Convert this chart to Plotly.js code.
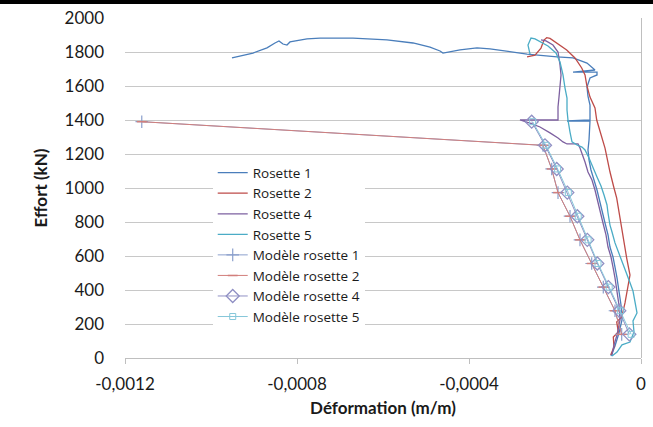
<!DOCTYPE html>
<html>
<head>
<meta charset="utf-8">
<script src="https://cdn.plot.ly/plotly-3.0.1.min.js"></script>
<style>html,body{margin:0;padding:0;background:#fff;}#chart{width:653px;height:427px;}</style>
</head>
<body>
<div id="chart"></div>
<script>
// ---- data (strain in m/m, load in kN) ----
const r1x = [-69.8e-6,-60.5e-6,-51.2e-6,-44.2e-6,-46.5e-6,-51.2e-6,-55.8e-6,-60.5e-6,-65.1e-6,-72.1e-6,-76.7e-6,-83.7e-6,-90.7e-6,-95.3e-6,-102.3e-6,-109.3e-6,-116.3e-6,-120.9e-6,-123.3e-6,-120.9e-6,-118.6e-6,-118.6e-6,-172.1e-6,-118.6e-6,-118.6e-6,-123.3e-6,-125.6e-6,-118.6e-6,-102.3e-6,-102.3e-6,-158.1e-6,-107e-6,-125.6e-6,-158.1e-6,-195.3e-6,-265.1e-6,-351.2e-6,-381.4e-6,-420.9e-6,-460.5e-6,-467.4e-6,-490.7e-6,-530.2e-6,-590.7e-6,-669.8e-6,-746.5e-6,-776.7e-6,-816.3e-6,-823.3e-6,-832.6e-6,-841.9e-6,-851.2e-6,-869.8e-6,-902.3e-6,-951.2e-6];
const r1y = [12,71,147,224,312,400,471,535,594,653,724,794,871,929,988,1047,1106,1165,1224,1282,1353,1394,1394,1400,1488,1541,1594,1647,1665,1682,1682,1694,1735,1765,1771,1788,1818,1824,1812,1794,1806,1829,1853,1871,1882,1882,1877,1859,1841,1847,1865,1853,1824,1794,1765];

const r2x = [-70.5e-6,-62.8e-6,-64.4e-6,-52.8e-6,-56.5e-6,-44.9e-6,-37.2e-6,-31.9e-6,-25.6e-6,-33.3e-6,-41.2e-6,-48.8e-6,-56.5e-6,-62.8e-6,-72.1e-6,-83.7e-6,-95.3e-6,-103e-6,-107e-6,-118.6e-6,-126.3e-6,-130.2e-6,-137.9e-6,-153.5e-6,-172.8e-6,-196e-6,-211.6e-6,-219.3e-6,-225.6e-6,-232.6e-6,-246.5e-6,-265e-6];
const r2y = [18,65,124,153,212,241,324,400,488,588,706,824,941,1000,1094,1235,1329,1400,1471,1535,1606,1665,1706,1765,1812,1853,1880,1884,1870,1823,1782,1771];

const r4x = [-67.4e-6,-62.8e-6,-55.8e-6,-48.8e-6,-51.2e-6,-55.8e-6,-60.5e-6,-65.1e-6,-69.8e-6,-76.7e-6,-81.4e-6,-88.4e-6,-95.3e-6,-100e-6,-107e-6,-114e-6,-123.3e-6,-130.2e-6,-134.9e-6,-141.9e-6,-146.5e-6,-172.1e-6,-181.4e-6,-193e-6,-211.6e-6,-234.9e-6,-258.1e-6,-281.4e-6,-193e-6,-193e-6,-190.7e-6,-188.4e-6,-186e-6,-188.4e-6,-193e-6,-204.7e-6,-220.9e-6,-232.6e-6];
const r4y = [18,77,135,224,312,400,471,535,594,653,724,794,871,929,988,1047,1094,1153,1188,1235,1259,1259,1271,1294,1324,1359,1382,1400,1400,1477,1535,1606,1665,1724,1800,1841,1865,1871];

const r5x = [-67.4e-6,-55.8e-6,-44.2e-6,-25.6e-6,-16.3e-6,-18.6e-6,-9.3e-6,-14e-6,-18.6e-6,-27.9e-6,-34.9e-6,-44.2e-6,-53.5e-6,-60.5e-6,-67.4e-6,-72.1e-6,-76.7e-6,-79.1e-6,-86e-6,-93e-6,-102.3e-6,-111.6e-6,-120.9e-6,-130.2e-6,-137.2e-6,-148.8e-6,-160.5e-6,-165.1e-6,-169.8e-6,-169.8e-6,-172.1e-6,-172.1e-6,-176.7e-6,-181.4e-6,-188.4e-6,-197.7e-6,-216.3e-6,-234.9e-6,-246.5e-6,-255.8e-6,-262.8e-6,-258.1e-6];
const r5y = [12,35,77,94,153,218,265,324,394,459,506,565,635,677,741,782,853,900,959,1012,1065,1124,1177,1224,1241,1253,1271,1329,1388,1400,1459,1529,1588,1665,1741,1794,1835,1859,1877,1882,1841,1788];

const modelLoads = [139,278,417,556,695,834,973,1112,1251,1390];
const m1x = [-44.9e-6,-60.5e-6,-87.7e-6,-114.7e-6,-141.9e-6,-165.1e-6,-193e-6,-207.7e-6,-227.9e-6,-1161e-6];
const m2x = [-44.9e-6,-60.5e-6,-87.7e-6,-114.7e-6,-141.9e-6,-165.1e-6,-193e-6,-207.7e-6,-227.9e-6,-1161e-6];
const m4x = [-27.2e-6,-50.5e-6,-76.0e-6,-101.6e-6,-124.9e-6,-148.1e-6,-171.4e-6,-196.0e-6,-223.3e-6,-254.2e-6];
const m5x = [-23e-6,-48e-6,-74e-6,-100e-6,-123e-6,-146e-6,-169e-6,-194e-6,-221e-6,-252e-6];

const seriesNames = ["Rosette 1","Rosette 2","Rosette 4","Rosette 5","Modèle rosette 1","Modèle rosette 2","Modèle rosette 4","Modèle rosette 5"];
const xTickVals = [-0.0012,-0.0008,-0.0004,0];
const xTickText = ["-0,0012","-0,0008","-0,0004","0"];
const yTickVals = [0,200,400,600,800,1000,1200,1400,1600,1800,2000];
const yTickText = ["0","200","400","600","800","1000","1200","1400","1600","1800","2000"];
const xTitle = "Déformation (m/m)";
const yTitle = "Effort (kN)";

// ---- traces ----
const FONT = "Lato, 'Open Sans', sans-serif";
const lineTrace = (x, y, name, color) => ({
  x, y, name, type: "scatter", mode: "lines",
  line: {color, width: 1.3}
});
const modelTrace = (x, y, name, color, symbol, size, lw) => ({
  x, y, name, type: "scatter", mode: "lines+markers",
  line: {color, width: 1},
  marker: {symbol, size, color, line: {color, width: lw}}
});

const data = [
  lineTrace(r1x, r1y, seriesNames[0], "#4A7EBB"),
  lineTrace(r2x, r2y, seriesNames[1], "#BE4B48"),
  lineTrace(r4x, r4y, seriesNames[2], "#7D60A0"),
  lineTrace(r5x, r5y, seriesNames[3], "#4BACC6"),
  modelTrace(m1x, modelLoads, seriesNames[4], "#8A9FCC", "cross-thin-open", 9, 1.2),
  modelTrace(m2x, modelLoads, seriesNames[5], "#D27F7C", "line-ew-open", 7, 1.5),
  modelTrace(m4x, modelLoads, seriesNames[6], "#9090C4", "diamond-open", 10, 1.3),
  modelTrace(m5x, modelLoads, seriesNames[7], "#86C7D9", "square-open", 6, 1)
];

const layout = {
  width: 653, height: 427,
  margin: {l: 125, r: 12, t: 18, b: 69},
  paper_bgcolor: "#ffffff", plot_bgcolor: "#ffffff",
  font: {family: FONT, size: 16, color: "#1a1a1a"},
  showlegend: true,
  legend: {
    x: 0.17, y: 0.59, xanchor: "left", yanchor: "top",
    bgcolor: "#ffffff", borderwidth: 0,
    font: {family: "'Open Sans', Lato, sans-serif", size: 13.5, color: "#1a1a1a"},
    tracegroupgap: 0, itemwidth: 30
  },
  xaxis: {
    range: [-0.0012, 0],
    tickvals: xTickVals, ticktext: xTickText,
    showgrid: false, zeroline: true, zerolinecolor: "#BFBFBF", zerolinewidth: 1,
    showline: true, linecolor: "#BFBFBF", linewidth: 1,
    ticks: "outside", ticklen: 5, tickcolor: "#BFBFBF",
    ticklabelstandoff: 6,
    tickfont: {family: FONT, size: 17, color: "#1a1a1a"},
    title: {text: xTitle, font: {family: FONT, size: 17, color: "#1a1a1a", weight: "bold"}, standoff: 8}
  },
  yaxis: {
    range: [0, 2000],
    tickvals: yTickVals, ticktext: yTickText,
    showgrid: true, gridcolor: "#C8C8C8", gridwidth: 1,
    zeroline: false, showline: false, ticks: "",
    ticklabelstandoff: 20,
    tickfont: {family: FONT, size: 17, color: "#1a1a1a"},
    title: {text: yTitle, font: {family: FONT, size: 17, color: "#1a1a1a", weight: "bold"}, standoff: 12}
  },
  shapes: [
    {type: "rect", xref: "paper", yref: "paper", x0: -0.26, x1: 1.04, y0: 1.041, y1: 1.07,
     fillcolor: "#000000", line: {width: 0}, layer: "above"}
  ]
};

Plotly.newPlot("chart", data, layout, {displayModeBar: false, staticPlot: true});
</script>
</body>
</html>
